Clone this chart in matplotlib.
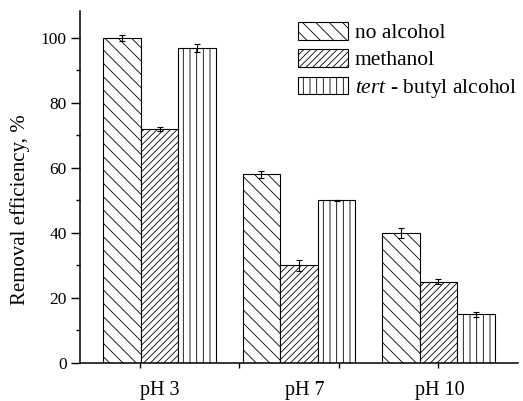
import matplotlib
matplotlib.use("Agg")
import matplotlib.pyplot as plt
import numpy as np

DPI = 80
S = 100 / DPI  # sizes below are given for a 100 dpi canvas and scaled

plt.rcParams["font.family"] = ["Liberation Serif", "DejaVu Serif"]
plt.rcParams["mathtext.fontset"] = "custom"
plt.rcParams["mathtext.rm"] = "Liberation Serif"
plt.rcParams["mathtext.it"] = "Liberation Serif:italic"
plt.rcParams["hatch.linewidth"] = 0.6 * S
plt.rcParams["hatch.color"] = "#4a4a4a"

groups = ["pH 3", "pH 7", "pH 10"]
series = ["no alcohol", "methanol", "$\\mathit{tert}$ - butyl alcohol"]
no_alcohol = [100, 58, 40]
methanol = [72, 30, 25]
tert_butyl = [97, 50, 15]
no_alcohol_err = [1.0, 1.2, 1.5]
methanol_err = [0.7, 1.8, 0.7]
tert_butyl_err = [1.2, 0.3, 0.8]

values = [no_alcohol, methanol, tert_butyl]
errors = [no_alcohol_err, methanol_err, tert_butyl_err]
hatches = ["\\\\", "////", "||"]

fig = plt.figure(figsize=(523 / DPI, 401 / DPI), dpi=DPI)
ax = fig.add_axes([80 / 523, 1 - 363 / 401, 438 / 523, 352 / 401])

x = np.arange(len(groups))
width = 0.27
handles = []
for i, (vals, errs, h, lab) in enumerate(zip(values, errors, hatches, series)):
    pos = x + (i - 1) * width
    b = ax.bar(pos, vals, width, facecolor="white", edgecolor="black",
               linewidth=0.8 * S, hatch=h, label=lab, zorder=2)
    ax.errorbar(pos, vals, yerr=errs, fmt="none", ecolor="black",
                elinewidth=0.8 * S, capsize=2.5 * S, capthick=0.8 * S, zorder=3)
    handles.append(b)

ax.set_xlim(-0.57, 2.57)
ax.set_ylim(0, 108.3)
ax.set_yticks([0, 20, 40, 60, 80, 100])
ax.set_yticks([10, 30, 50, 70, 90], minor=True)
ax.set_xticks([-0.14, 0.57, 1.285, 1.996])
ax.set_xticklabels([])
ax.spines["top"].set_visible(False)
ax.spines["right"].set_visible(False)
for s in ("left", "bottom"):
    ax.spines[s].set_linewidth(1.1 * S)
ax.tick_params(axis="y", which="major", direction="out", length=6.5 * S,
               width=1.0 * S, labelsize=12.5 * S, pad=3 * S)
ax.tick_params(axis="y", which="minor", direction="out", length=3.2 * S,
               width=1.0 * S)
ax.tick_params(axis="x", which="major", direction="out", length=3.5 * S,
               width=1.0 * S)

fig.text(20 / 523, 1 - 210 / 401, "Removal efficiency, %", rotation=90,
         ha="center", va="center", fontsize=15 * S)

label_x = [160, 305, 440]
for lx, g in zip(label_x, groups):
    fig.text(lx / 523, 1 - 381 / 401, g, ha="center", va="top",
             fontsize=14.5 * S)

leg = fig.legend(handles=handles, labels=series, loc="upper left",
                 bbox_to_anchor=(298 / 523, 1 - 22 / 401), frameon=False,
                 fontsize=15.5 * S, handlelength=2.33, handleheight=0.88,
                 labelspacing=0.28, handletextpad=0.3, borderpad=0,
                 borderaxespad=0)

fig.savefig("out.png", dpi=DPI)
